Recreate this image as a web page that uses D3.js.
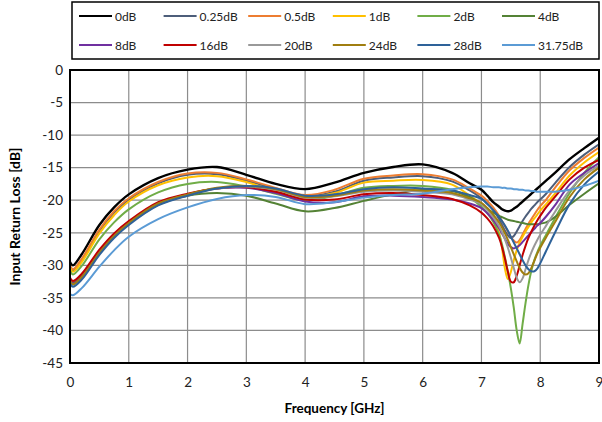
<!DOCTYPE html>
<html><head><meta charset="utf-8">
<script src="https://cdn.jsdelivr.net/npm/d3@7"></script>
<style>
html,body{margin:0;padding:0;background:#fff;}
svg{display:block;font-family:Lato,"Noto Sans",sans-serif;}
</style></head>
<body><svg id="c" width="602" height="422"></svg>
<script>
const freqGHz = [0,0.05,0.2,0.5,0.75,1,1.5,2,2.5,3,3.5,4,4.5,5,5.5,6,6.5,6.8,
  7,7.1,7.2,7.3,7.35,7.4,7.45,7.5,7.55,7.6,7.65,7.7,7.75,7.8,7.85,7.9,7.95,8,
  8.1,8.25,8.5,8.75,9];

const rl_0dB = [-29.5,-30.0,-28.3,-23.8,-21.1,-19.1,-16.6,-15.3,-14.9,-16.1,-17.5,-18.3,-17.3,-15.8,-14.9,-14.5,-15.8,-17.4,
  -18.4,-19.3,-20.3,-21.0,-21.4,-21.6,-21.7,-21.6,-21.3,-21.0,-20.6,-20.2,-19.8,-19.4,-19.0,-18.6,-18.2,-17.8,
  -17.0,-15.8,-13.7,-12.0,-10.4];
const rl_025dB = [-30.2,-30.8,-29.2,-24.7,-21.9,-19.9,-17.4,-16.1,-16.0,-17.0,-18.3,-19.4,-18.7,-17.0,-16.5,-16.3,-17.1,-18.5,
  -19.7,-20.5,-21.5,-22.9,-23.8,-24.7,-25.4,-25.8,-25.5,-24.8,-24.0,-23.2,-22.5,-21.9,-21.3,-20.8,-20.3,-19.9,
  -19.0,-17.4,-14.9,-13.0,-11.4];
const rl_05dB = [-30.0,-30.6,-29.0,-24.5,-21.7,-19.7,-17.2,-15.9,-15.8,-16.8,-18.1,-19.2,-18.4,-16.7,-16.2,-16.0,-16.8,-18.2,
  -19.3,-20.1,-21.1,-22.4,-23.2,-24.0,-24.8,-25.6,-26.2,-26.5,-26.1,-25.3,-24.4,-23.6,-22.9,-22.2,-21.5,-20.9,
  -19.9,-18.1,-15.4,-13.5,-11.9];
const rl_1dB = [-30.4,-31.0,-29.5,-25.1,-22.3,-20.2,-17.7,-16.5,-16.3,-17.2,-18.6,-19.6,-18.9,-17.3,-17.0,-16.9,-17.6,-19.3,
  -20.6,-21.4,-22.6,-25.0,-27.3,-30.5,-32.1,-31.0,-29.2,-27.7,-26.5,-25.6,-24.8,-24.1,-23.4,-22.8,-22.2,-21.6,
  -20.6,-19.0,-16.2,-14.2,-12.6];
const rl_2dB = [-30.8,-31.4,-30.1,-26.0,-23.4,-21.4,-18.8,-17.5,-17.2,-17.9,-19.0,-20.0,-19.3,-18.1,-17.8,-17.8,-18.4,-19.6,
  -21.0,-22.0,-23.3,-25.3,-26.8,-28.8,-31.0,-33.5,-36.5,-40.0,-42.0,-39.0,-35.8,-33.0,-30.8,-29.2,-28.0,-27.0,
  -25.3,-22.8,-18.9,-15.8,-13.4];
const rl_4dB = [-32.2,-32.7,-31.6,-28.0,-25.5,-23.6,-20.7,-19.3,-18.9,-19.3,-20.5,-21.7,-21.2,-20.1,-19.1,-18.4,-18.6,-19.5,
  -20.6,-21.3,-21.9,-22.4,-22.6,-22.8,-23.0,-23.1,-23.2,-23.3,-23.4,-23.5,-23.6,-23.7,-23.7,-23.7,-23.7,-23.6,
  -23.4,-22.6,-20.7,-19.0,-17.4];
const rl_8dB = [-32.3,-32.8,-31.7,-28.1,-25.5,-23.5,-20.5,-19.1,-18.2,-18.1,-18.9,-20.2,-20.3,-19.4,-19.3,-19.5,-19.9,-20.5,
  -21.2,-22.0,-23.0,-24.3,-25.1,-25.9,-26.7,-27.2,-27.4,-27.2,-26.9,-26.4,-25.9,-25.4,-24.9,-24.4,-23.9,-23.5,
  -22.5,-20.8,-17.6,-15.8,-14.3];
const rl_16dB = [-31.9,-32.4,-31.3,-27.6,-25.1,-23.2,-20.3,-19.0,-18.2,-18.0,-18.7,-19.9,-19.9,-19.1,-18.9,-19.2,-19.8,-20.8,
  -21.9,-22.8,-24.0,-25.8,-27.2,-29.0,-31.0,-32.5,-32.6,-31.6,-30.0,-28.4,-27.0,-25.8,-24.8,-23.9,-23.1,-22.4,
  -21.1,-19.5,-16.8,-15.0,-13.8];
const rl_20dB = [-32.5,-33.0,-31.9,-28.2,-25.6,-23.6,-20.6,-19.2,-18.2,-17.9,-18.4,-19.6,-19.4,-18.7,-18.5,-18.7,-19.1,-19.9,
  -20.6,-21.5,-22.6,-24.0,-24.9,-26.0,-27.3,-28.8,-30.4,-31.9,-32.6,-32.0,-30.6,-29.2,-28.0,-27.0,-26.1,-25.3,
  -23.9,-21.8,-18.5,-16.2,-14.7];
const rl_24dB = [-32.4,-32.9,-31.8,-28.1,-25.5,-23.5,-20.5,-19.1,-18.1,-17.8,-18.3,-19.5,-19.3,-18.5,-18.3,-18.5,-18.9,-19.7,
  -20.4,-21.2,-22.2,-23.4,-24.2,-25.1,-26.1,-27.2,-28.3,-29.4,-30.4,-31.1,-31.4,-31.2,-30.4,-29.3,-28.2,-27.3,
  -25.7,-23.4,-19.5,-16.8,-15.0];
const rl_28dB = [-32.8,-33.3,-32.2,-28.4,-25.8,-23.8,-20.8,-19.3,-18.2,-17.8,-18.2,-19.3,-19.1,-18.3,-18.0,-18.2,-18.5,-19.2,
  -19.8,-20.6,-21.5,-22.6,-23.2,-23.9,-24.7,-25.6,-26.5,-27.4,-28.3,-29.2,-30.0,-30.6,-30.9,-30.9,-30.5,-29.7,
  -27.8,-25.0,-20.6,-17.6,-15.6];
const rl_3175dB = [-34.4,-34.6,-33.5,-30.2,-27.7,-25.6,-22.9,-21.1,-19.8,-19.2,-19.5,-20.6,-20.3,-19.6,-19.2,-19.0,-18.3,-18.0,
  -17.9,-17.9,-18.0,-18.0,-18.1,-18.1,-18.2,-18.2,-18.3,-18.3,-18.4,-18.4,-18.5,-18.5,-18.6,-18.6,-18.7,-18.7,
  -18.7,-18.7,-18.4,-17.8,-17.0];

const seriesNames = ["0dB","0.25dB","0.5dB","1dB","2dB","4dB","8dB","16dB","20dB","24dB","28dB","31.75dB"];
const seriesValues = [rl_0dB,rl_025dB,rl_05dB,rl_1dB,rl_2dB,rl_4dB,rl_8dB,rl_16dB,rl_20dB,rl_24dB,rl_28dB,rl_3175dB];
const seriesColors = ["#000000","#4d5e7a","#ed7d31","#ffc000","#70ad47","#548235","#7030a0","#c00000","#999999","#a07e10","#2e6299","#5b9bd5"];
const xTicks = [0,1,2,3,4,5,6,7,8,9];
const yTicks = [0,-5,-10,-15,-20,-25,-30,-35,-40,-45];

const svg = d3.select("#c");
const L=70, R=599, T=70, B=363;
const x = d3.scaleLinear().domain([0,9]).range([L,R]);
const y = d3.scaleLinear().domain([-45,0]).range([B,T]);

// grid
svg.append("g").selectAll("line").data(xTicks).join("line")
  .attr("x1",d=>x(d)).attr("x2",d=>x(d)).attr("y1",T).attr("y2",B)
  .attr("stroke","#8c8c8c").attr("stroke-width",1.2);
svg.append("g").selectAll("line").data(yTicks).join("line")
  .attr("x1",L).attr("x2",R).attr("y1",d=>y(d)).attr("y2",d=>y(d))
  .attr("stroke","#8c8c8c").attr("stroke-width",1.2);

// axes labels
const ya = svg.append("g").attr("transform",`translate(${L},0)`)
  .call(d3.axisLeft(y).tickValues(yTicks).tickSize(0).tickPadding(7).tickFormat(d=>String(d)));
ya.select(".domain").remove();
ya.selectAll("text").attr("font-size",13.5).attr("fill","#222").attr("font-family","Lato");
const xa = svg.append("g").attr("transform",`translate(0,${B})`)
  .call(d3.axisBottom(x).tickValues(xTicks).tickSize(0).tickPadding(14).tickFormat(d=>String(d)));
xa.select(".domain").remove();
xa.selectAll("text").attr("font-size",13.5).attr("fill","#222").attr("font-family","Lato");

// lines
const line = d3.line().x((d,i)=>x(freqGHz[i])).y(d=>y(d)).curve(d3.curveCatmullRom.alpha(0.5));
svg.append("clipPath").attr("id","pc").append("rect")
  .attr("x",L).attr("y",T).attr("width",R-L).attr("height",B-T);
svg.append("g").attr("clip-path","url(#pc)").selectAll("path").data(seriesValues).join("path")
  .attr("d",d=>line(d)).attr("fill","none")
  .attr("stroke",(d,i)=>seriesColors[i]).attr("stroke-width",(d,i)=>i===0?2.4:2)
  .attr("stroke-linejoin","round");

// plot border
svg.append("rect").attr("x",L).attr("y",T).attr("width",R-L).attr("height",B-T)
  .attr("fill","none").attr("stroke","#000").attr("stroke-width",2);

// titles
svg.append("text").attr("x",(L+R)/2).attr("y",413).attr("text-anchor","middle")
  .attr("font-size",13.5).attr("font-weight","bold").text("Frequency [GHz]");
svg.append("text").attr("transform",`translate(20,${(T+B)/2}) rotate(-90)`).attr("text-anchor","middle")
  .attr("font-size",14).attr("font-weight","bold").text("Input Return Loss [dB]");

// legend
svg.append("rect").attr("x",72).attr("y",2).attr("width",527).attr("height",57)
  .attr("fill","#fff").attr("stroke","#000").attr("stroke-width",1.5);
const lg = svg.append("g").selectAll("g").data(seriesNames).join("g")
  .attr("transform",(d,i)=>`translate(${79+(i%6)*84.6},${i<6?16:45})`);
lg.append("line").attr("x1",0).attr("x2",33).attr("y1",0).attr("y2",0)
  .attr("stroke",(d,i)=>seriesColors[i]).attr("stroke-width",2.2);
lg.append("text").attr("x",36).attr("y",4.5).attr("font-size",12).attr("fill","#222").text(d=>d);
</script></body></html>
